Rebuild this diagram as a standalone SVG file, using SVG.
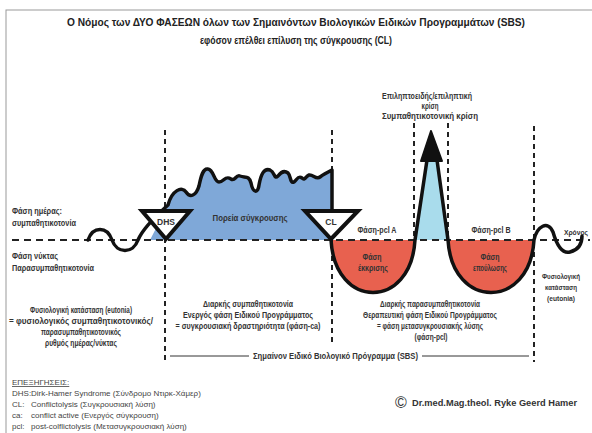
<svg xmlns="http://www.w3.org/2000/svg" width="592" height="433" viewBox="0 0 592 433">
<style>
text{font-family:"Liberation Sans",Arial,sans-serif;fill:#333;}
.t{font-size:11px;font-weight:bold;text-anchor:middle;fill:#222;}
.s{font-size:8.5px;font-weight:bold;}
.r{font-size:7.5px;}
.c{text-anchor:middle;}
.lg{font-size:8px;fill:#444;}
.dash{stroke:#222;stroke-width:2;stroke-dasharray:5 4;fill:none;}
.base{stroke:#222;stroke-width:1.8;stroke-dasharray:7 5;fill:none;}
.ln{stroke:#111;stroke-width:3.5;fill:none;stroke-linejoin:round;stroke-linecap:round;}
.tri{fill:#fff;stroke:#111;stroke-width:4;stroke-linejoin:miter;}
</style>
<rect x="6" y="10" width="600" height="440" fill="#fff" stroke="#999" stroke-width="1"/>
<g id="title">
<text class="t" x="296" y="26" textLength="458" lengthAdjust="spacingAndGlyphs">Ο Νόμος των ΔΥΟ ΦΑΣΕΩΝ όλων των Σημαινόντων Βιολογικών Ειδικών Προγραμμάτων (SBS)</text>
<text class="t" x="296" y="44" textLength="192" lengthAdjust="spacingAndGlyphs">εφόσον επέλθει επίλυση της σύγκρουσης (CL)</text>
</g>
<g id="fills">
<path d="M150,240 L168,205 C172,190 182,186 186,192 C190,198 196,196 199,186 C201,176 203,168 208,169 C214,170 214,182 219,182 C224,182 225,175 231,179 C235,182 236,174 240,176 C245,178 249,175 251,183 C253,193 258,194 259,185 C261,174 264,168 270,170 C275,172 274,180 278,176 C281,172 284,170 288,173 C291,176 290,184 294,182 C297,180 298,175 302,178 C305,181 306,176 309,175 C313,174 316,180 320,177 C324,174 328,172 332,170 L332,240 Z" fill="#7fa8d8"/>
<path d="M331,240 C335,310 411,310 415,240 Z" fill="#e8614f"/>
<path d="M448,240 C452,310 530,310 534,240 Z" fill="#e8614f"/>
<path d="M415,240 L427,160 L437,160 L448,240 Z" fill="#a9dcec"/>
</g>
<g id="connectors">
<line class="base" x1="12" y1="240" x2="590" y2="240"/>
<line class="dash" x1="165" y1="130" x2="165" y2="362"/>
<line class="dash" x1="332" y1="130" x2="332" y2="346"/>
<line class="dash" x1="414" y1="123" x2="414" y2="240"/>
<line class="dash" x1="448" y1="123" x2="448" y2="240"/>
<line class="dash" x1="534" y1="126" x2="534" y2="362"/>
<path class="ln" d="M88,240 C93,226 107,226 112,240 C117,254 133,254 138,240 C143,228 158,214 168,205 C172,190 182,186 186,192 C190,198 196,196 199,186 C201,176 203,168 208,169 C214,170 214,182 219,182 C224,182 225,175 231,179 C235,182 236,174 240,176 C245,178 249,175 251,183 C253,193 258,194 259,185 C261,174 264,168 270,170 C275,172 274,180 278,176 C281,172 284,170 288,173 C291,176 290,184 294,182 C297,180 298,175 302,178 C305,181 306,176 309,175 C313,174 316,180 320,177 C324,174 328,172 332,170 L332,210"/>
<path class="ln" d="M331,240 C335,310 411,310 415,240 L427,160"/>
<path class="ln" d="M437,160 L448,240 C452,310 530,310 534,240 C537,226 548,220 553,232 C557,246 562,254 570,252 C578,250 582,244 582,236"/>
<path d="M431,131 L421,161 L442,161 Z" fill="#111" stroke="#111" stroke-width="2" stroke-linejoin="round"/>
<line x1="170" y1="356" x2="249" y2="356" stroke="#333" stroke-width="1"/>
<line x1="422" y1="356" x2="529" y2="356" stroke="#333" stroke-width="1"/>
</g>
<g id="DHS">
<path class="tri" d="M142,211 L190,211 L166,239 Z"/>
<text class="s c" x="166" y="225" font-size="9">DHS</text>
</g>
<g id="CL">
<path class="tri" d="M305,211 L358,211 L331,239 Z"/>
<text class="s c" x="331" y="225" font-size="9">CL</text>
</g>
<g id="labels">
<text class="s" x="12" y="214" textLength="50" lengthAdjust="spacingAndGlyphs">Φάση ημέρας:</text>
<text class="s" x="12" y="226" textLength="64" lengthAdjust="spacingAndGlyphs">συμπαθητικοτονία</text>
<text class="s" x="12" y="259" textLength="46" lengthAdjust="spacingAndGlyphs">Φάση νύκτας</text>
<text class="s" x="12" y="271" textLength="82" lengthAdjust="spacingAndGlyphs">Παρασυμπαθητικοτονία</text>
<text class="s c" x="250" y="221" textLength="75" lengthAdjust="spacingAndGlyphs">Πορεία σύγκρουσης</text>
<text class="s c" x="427" y="99" textLength="90" lengthAdjust="spacingAndGlyphs">Επιληπτοειδής/επιληπτική</text>
<text class="s c" x="430" y="109" textLength="17" lengthAdjust="spacingAndGlyphs">κρίση</text>
<text class="s c" x="430" y="119" textLength="96" lengthAdjust="spacingAndGlyphs">Συμπαθητικοτονική κρίση</text>
<text class="s c" x="377" y="233" textLength="39" lengthAdjust="spacingAndGlyphs">Φάση-pcl A</text>
<text class="s c" x="491" y="233" textLength="39" lengthAdjust="spacingAndGlyphs">Φάση-pcl B</text>
<text class="s r" x="564" y="235" textLength="24" lengthAdjust="spacingAndGlyphs">Χρόνος</text>
<text class="s c" x="372" y="260" textLength="19" lengthAdjust="spacingAndGlyphs">Φάση</text>
<text class="s c" x="373" y="271" textLength="30" lengthAdjust="spacingAndGlyphs">έκκρισης</text>
<text class="s c" x="490" y="260" textLength="19" lengthAdjust="spacingAndGlyphs">Φάση</text>
<text class="s c" x="490" y="271" textLength="34" lengthAdjust="spacingAndGlyphs">επούλωσης</text>
<text class="s r c" x="561" y="279" textLength="38" lengthAdjust="spacingAndGlyphs">Φυσιολογική</text>
<text class="s r c" x="561" y="290" textLength="32" lengthAdjust="spacingAndGlyphs">κατάσταση</text>
<text class="s r c" x="561" y="301" textLength="28" lengthAdjust="spacingAndGlyphs">(eutonia)</text>
<text class="s c" x="81" y="313" textLength="102" lengthAdjust="spacingAndGlyphs">Φυσιολογική κατάσταση (eutonia)</text>
<text class="s c" x="81" y="324" textLength="144" lengthAdjust="spacingAndGlyphs">= φυσιολογικός συμπαθητικοτονικός/</text>
<text class="s c" x="81" y="335" textLength="80" lengthAdjust="spacingAndGlyphs">παρασυμπαθητικοτονικός</text>
<text class="s c" x="81" y="346" textLength="72" lengthAdjust="spacingAndGlyphs">ρυθμός ημέρας/νύκτας</text>
<text class="s c" x="248" y="307" textLength="90" lengthAdjust="spacingAndGlyphs">Διαρκής συμπαθητικοτονία</text>
<text class="s c" x="248" y="318" textLength="130" lengthAdjust="spacingAndGlyphs">Ενεργός φάση Ειδικού Προγράμματος</text>
<text class="s c" x="248" y="329" textLength="145" lengthAdjust="spacingAndGlyphs">= συγκρουσιακή δραστηριότητα (φάση-ca)</text>
<text class="s c" x="430" y="307" textLength="100" lengthAdjust="spacingAndGlyphs">Διαρκής παρασυμπαθητικοτονία</text>
<text class="s c" x="430" y="318" textLength="134" lengthAdjust="spacingAndGlyphs">Θεραπευτική φάση Ειδικού Προγράμματος</text>
<text class="s c" x="430" y="329" textLength="106" lengthAdjust="spacingAndGlyphs">= φάση μετασυγκρουσιακής λύσης</text>
<text class="s c" x="431" y="340" textLength="33" lengthAdjust="spacingAndGlyphs">(φάση-pcl)</text>
<text class="s c" x="335.5" y="359" font-size="9" textLength="165" lengthAdjust="spacingAndGlyphs">Σημαίνον Ειδικό Βιολογικό Πρόγραμμα (SBS)</text>
</g>
<g id="legend">
<text class="lg" x="12" y="385" text-decoration="underline">ΕΠΕΞΗΓΗΣΕΙΣ:</text>
<text class="lg" x="12" y="396">DHS:</text><text class="lg" x="31" y="396">Dirk-Hamer Syndrome  (Σύνδρομο Ντιρκ-Χάμερ)</text>
<text class="lg" x="12" y="407">CL:</text><text class="lg" x="31" y="407">Conflictolysis  (Συγκρουσιακή λύση)</text>
<text class="lg" x="12" y="418">ca:</text><text class="lg" x="31" y="418">conflict active  (Ενεργός σύγκρουση)</text>
<text class="lg" x="12" y="429">pcl:</text><text class="lg" x="31" y="429">post-colflictolysis  (Μετασυγκρουσιακή λύση)</text>
</g>
<g id="copyright">
<text x="395" y="408" font-size="16" fill="#222">©</text>
<text x="412" y="406" font-size="9" font-weight="bold" fill="#222" textLength="165" lengthAdjust="spacingAndGlyphs">Dr.med.Mag.theol. Ryke Geerd Hamer</text>
</g>
</svg>
